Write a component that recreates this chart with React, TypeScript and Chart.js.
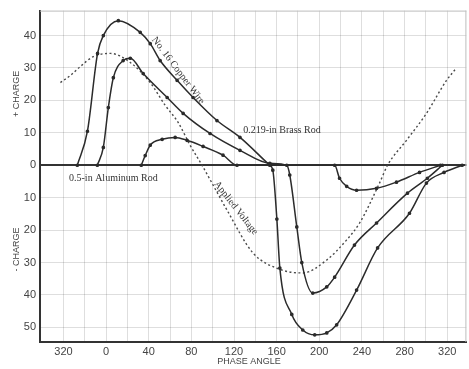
import React, { useEffect, useRef } from "react";
import { Chart, registerables } from "chart.js";

Chart.register(...registerables);

// Phase angle (deg, 320 on the left shown as -40) and charge values
const copperX = [-27, -17.5, -8, -2.6, 11.5, 32, 41.4, 50.7, 66.6, 81.6, 104, 125.6, 153.6, 156.4, 160.2, 163, 174.2, 184.5, 195.7, 207, 216.3, 235, 254.7, 284.6, 300.5, 317, 334];
const copperY = [0, 10.5, 34.5, 40, 44.6, 41, 37.5, 32.3, 26.2, 20.9, 13.8, 8.6, 0, -1.5, -16.6, -31.7, -46, -50.8, -52.3, -51.7, -49.2, -38.5, -25.5, -14.8, -5.5, -2.2, 0];

const brassX = [-8.2, -2.6, 2.1, 6.8, 16, 22.7, 34.8, 57.3, 72.3, 97.5, 125.6, 153.6, 169.5, 172.3, 178.9, 183.6, 193.9, 207, 214.4, 233, 253.7, 282.7, 301.4, 315.5];
const brassY = [0, 5.5, 17.8, 27, 32.3, 33, 28.3, 20.9, 16, 9.8, 4.6, 0.6, 0, -3, -19, -30, -39.4, -37.5, -34.5, -24.6, -17.8, -8.6, -4, 0];

const aluminumX = [33, 36.7, 41.4, 52.6, 64.8, 76, 91, 109.7, 122.8, 214.4, 219, 225.7, 235, 253.7, 272.4, 294, 313.6];
const aluminumY = [0, 3, 6.2, 8, 8.6, 7.7, 5.8, 3.1, 0, 0, -4, -6.5, -7.7, -7.1, -5.2, -2.2, 0];

const voltageX = [-42.8, -33.5, -24, -12, 4, 22.7, 41.4, 55.4, 67.6, 78.8, 90, 113.4, 137.7, 164.9, 184.5, 207, 225.7, 237.8, 256.5, 264, 281.8, 300.5, 319, 328.6];
const voltageY = [25.5, 27.7, 30.5, 33.5, 34.5, 31.7, 25.5, 18.5, 13.2, 6.2, 0, -13.8, -27, -32.3, -33.2, -29.2, -23, -17.8, -5.5, 0, 7.7, 16, 26, 30];

const xTicks = [-40, -20, 0, 20, 40, 60, 80, 100, 120, 140, 160, 180, 200, 220, 240, 260, 280, 300, 320];
const yTicks = [-50, -40, -30, -20, -10, 0, 10, 20, 30, 40];

// annotation labels: [text, x(deg), y(charge), rotation deg]
const labels: [string, number, number, number][] = [
  ["No. 16 Copper Wire", 67.6, 29.2, 53],
  ["0.219-in Brass Rod", 164.9, 10.8, 0],
  ["0.5-in Aluminum Rod", 6.8, -4, 0],
  ["Applied Voltage", 121.8, -13.2, 52],
];

const toPts = (xs: number[], ys: number[]) => xs.map((x, i) => ({ x, y: ys[i] }));

const solid = (label: string, xs: number[], ys: number[]) => ({
  label,
  data: toPts(xs, ys),
  showLine: true,
  borderColor: "#2b2b2b",
  backgroundColor: "#2b2b2b",
  borderWidth: 1.5,
  pointRadius: 1.1,
  pointHoverRadius: 1.1,
  cubicInterpolationMode: "monotone" as const,
  fill: false,
});

const textPlugin = {
  id: "texts",
  afterDraw(chart: any) {
    const ctx = chart.ctx;
    const xs = chart.scales.x;
    const ys = chart.scales.y;
    const area = chart.chartArea;
    ctx.save();
    ctx.strokeStyle = "#bdbdbd";
    ctx.lineWidth = 1;
    ctx.beginPath();
    ctx.moveTo(area.left, area.top + 0.5);
    ctx.lineTo(area.right, area.top + 0.5);
    ctx.moveTo(area.right - 0.5, area.top);
    ctx.lineTo(area.right - 0.5, area.bottom);
    ctx.stroke();

    ctx.fillStyle = "#333";
    ctx.font = '10px "Liberation Serif", serif';
    ctx.textAlign = "center";
    ctx.textBaseline = "middle";
    for (const [t, dx, dy, rot] of labels) {
      const px = xs.getPixelForValue(dx);
      const py = ys.getPixelForValue(dy);
      ctx.save();
      ctx.translate(px, py);
      ctx.rotate((rot * Math.PI) / 180);
      ctx.fillText(t, 0, 0);
      ctx.restore();
    }

    ctx.fillStyle = "#444";
    ctx.font = '9px "Liberation Sans", sans-serif';
    const drawV = (t: string, x: number, y: number) => {
      ctx.save();
      ctx.translate(x, y);
      ctx.rotate(-Math.PI / 2);
      ctx.fillText(t, 0, 0);
      ctx.restore();
    };
    drawV("+ CHARGE", 17, ys.getPixelForValue(22));
    drawV("- CHARGE", 17, ys.getPixelForValue(-26));
    ctx.fillText("PHASE ANGLE", xs.getPixelForValue(134), 362);
    ctx.restore();
  },
};

export default function App() {
  const ref = useRef<HTMLCanvasElement | null>(null);
  useEffect(() => {
    document.body.style.margin = "0";
    const c = ref.current!;
    const chart = new Chart(c, {
      type: "scatter",
      data: {
        datasets: [
          solid("No. 16 Copper Wire", copperX, copperY),
          solid("0.219-in Brass Rod", brassX, brassY),
          solid("0.5-in Aluminum Rod", aluminumX, aluminumY),
          {
            label: "Applied Voltage",
            data: toPts(voltageX, voltageY),
            showLine: true,
            borderColor: "#4a4a4a",
            backgroundColor: "#4a4a4a",
            borderWidth: 1.4,
            borderDash: [2, 2.5],
            pointRadius: 0,
            cubicInterpolationMode: "monotone" as const,
            fill: false,
          },
        ],
      },
      options: {
        animation: false,
        responsive: false,
        maintainAspectRatio: false,
        layout: { padding: { top: 10, right: 2, left: 0, bottom: 0 } },
        plugins: { legend: { display: false }, tooltip: { enabled: false } },
        scales: {
          x: {
            type: "linear",
            min: -62,
            max: 338,
            afterBuildTicks: (s: any) => {
              s.ticks = xTicks.map((v) => ({ value: v }));
            },
            afterFit: (s: any) => {
              s.height = 27;
            },
            ticks: {
              padding: 3,
              autoSkip: false,
              maxRotation: 0,
              minRotation: 0,
              color: "#444",
              font: { family: '"Liberation Sans", sans-serif', size: 11 },
              callback: (v: any) => {
                const n = Number(v);
                if (n % 40 !== 0) return "";
                return String(n < 0 ? n + 360 : n);
              },
            },
            grid: { color: "rgba(0,0,0,0.13)", drawTicks: false },
            border: { color: "#333", width: 2 },
          },
          y: {
            type: "linear",
            min: -54.5,
            max: 47.7,
            afterBuildTicks: (s: any) => {
              s.ticks = yTicks.map((v) => ({ value: v }));
            },
            afterFit: (s: any) => {
              s.width = 40;
            },
            ticks: {
              padding: 4,
              color: "#444",
              font: { family: '"Liberation Sans", sans-serif', size: 11 },
              callback: (v: any) => String(Math.abs(Number(v))),
            },
            grid: {
              drawTicks: false,
              color: (ctx: any) => (ctx.tick && ctx.tick.value === 0 ? "#333" : "rgba(0,0,0,0.13)"),
              lineWidth: (ctx: any) => (ctx.tick && ctx.tick.value === 0 ? 2 : 1),
            },
            border: { color: "#333", width: 2 },
          },
        },
      },
      plugins: [textPlugin],
    });
    return () => chart.destroy();
  }, []);
  return (
    <div style={{ width: 469, height: 369, background: "#fff" }}>
      <canvas ref={ref} width={469} height={369} style={{ display: "block" }} />
    </div>
  );
}
